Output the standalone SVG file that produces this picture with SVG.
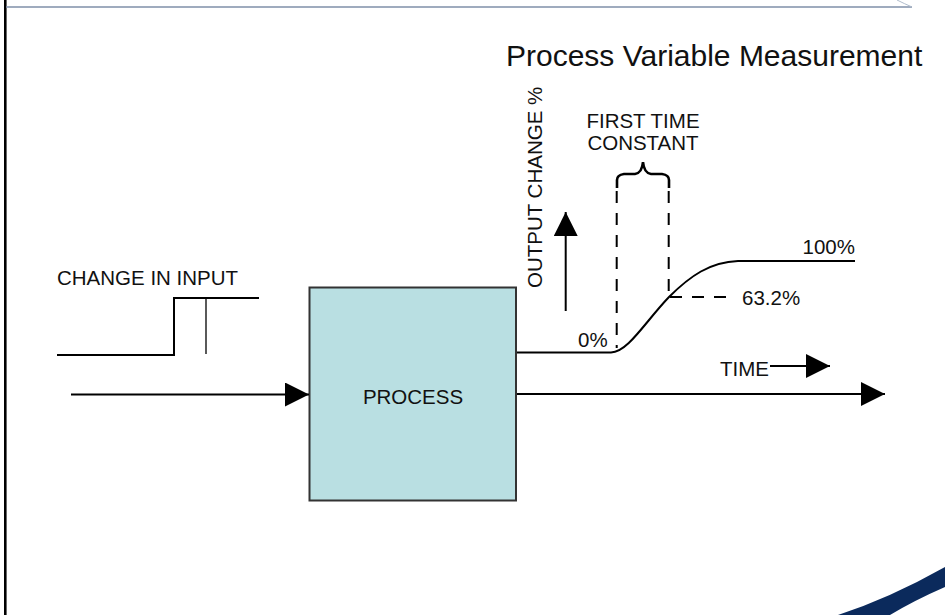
<svg xmlns="http://www.w3.org/2000/svg" width="945" height="615" viewBox="0 0 945 615">
<style>
text{font-family:"Liberation Sans",Arial,sans-serif;fill:#111}
.l{font-size:20.5px}
.ln{stroke:#000;stroke-width:2;fill:none}
.thin{stroke:#000;stroke-width:1.3;fill:none}
.dash{stroke:#000;stroke-width:2;fill:none;stroke-dasharray:12 10}
</style>
<defs>
<marker id="ah" markerWidth="24" markerHeight="24" refX="24" refY="12" orient="auto" markerUnits="userSpaceOnUse">
<path d="M0,0 L24,12 L0,24 Z" fill="#000"/>
</marker>
</defs>
<rect width="945" height="615" fill="#fff"/>
<g id="frame">
<line x1="5.3" y1="0" x2="5.3" y2="615" stroke="#000" stroke-width="2.6"/>
<line x1="6" y1="7" x2="912" y2="7" stroke="#7f8fa8" stroke-width="1.3"/>
<path d="M897,0 Q905,4 912,7" stroke="#b0bccc" stroke-width="1" fill="none"/>
<path d="M838,615 Q890,598 945,567 L945,587 Q915,600 890,615 Z" fill="#0b2a5c"/>
</g>
<text x="506" y="66" font-size="30px">Process Variable Measurement</text>
<g id="process">
<rect x="309.5" y="287.5" width="206.5" height="213" fill="#b9dfe2" stroke="#333" stroke-width="2"/>
<text class="l" x="413" y="404" text-anchor="middle">PROCESS</text>
</g>
<g id="input">
<text class="l" x="57" y="285">CHANGE IN INPUT</text>
<path class="ln" d="M57,355 H174 V298 H259"/>
<line class="thin" x1="206" y1="298" x2="206" y2="354"/>
</g>
<g id="connectors">
<line class="ln" x1="71" y1="394.5" x2="309" y2="394.5" marker-end="url(#ah)"/>
<line class="ln" x1="517" y1="394" x2="885" y2="394" marker-end="url(#ah)"/>
<line class="ln" x1="565.7" y1="311" x2="565.7" y2="212" marker-end="url(#ah)"/>
<line class="ln" x1="770" y1="366" x2="830" y2="366" marker-end="url(#ah)"/>
</g>
<g id="response">
<path class="ln" d="M517,352.5 H611 C628,352 645,322 669,297 C690,276 710,262 738,261 H855"/>
<line class="dash" x1="616.7" y1="191" x2="616.7" y2="348"/>
<line class="dash" x1="668.7" y1="191" x2="668.7" y2="297"/>
<line class="dash" x1="670" y1="297" x2="735" y2="297"/>
<path d="M617,188 V180 Q617,175 624,174 H635 Q642,173 643,162 Q644,173 651,174 H662 Q669,175 669,180 V188" stroke="#000" stroke-width="2.6" fill="none"/>
<text class="l" x="535" y="288" transform="rotate(-90 535 288)" dy="7">OUTPUT CHANGE %</text>
<text class="l" x="643" y="128" text-anchor="middle">FIRST TIME</text>
<text class="l" x="643" y="150" text-anchor="middle">CONSTANT</text>
<text class="l" x="855" y="254" text-anchor="end">100%</text>
<text class="l" x="742" y="305">63.2%</text>
<text class="l" x="578" y="347">0%</text>
<text class="l" x="720" y="376">TIME</text>
</g>
</svg>
